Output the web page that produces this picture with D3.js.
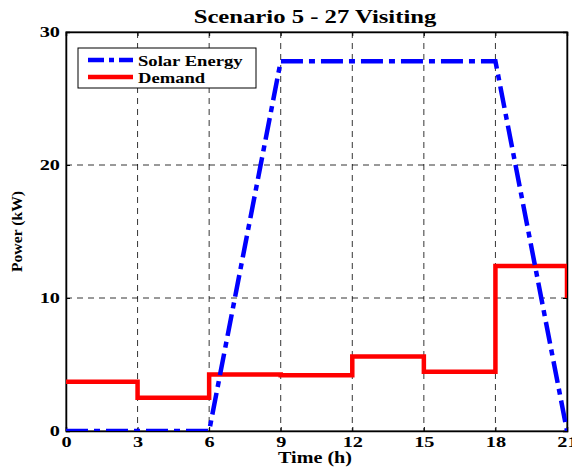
<!DOCTYPE html>
<html>
<head>
<meta charset="utf-8">
<script src="https://cdn.jsdelivr.net/npm/d3@7"></script>
<style>
  body { margin: 0; background: #fff; }
  text { font-family: "Liberation Serif", "Times New Roman", serif; font-weight: bold; }
</style>
</head>
<body>
<div id="chart"></div>
<script>
// Data
const xTicks = [0, 3, 6, 9, 12, 15, 18, 21];
const yTicks = [0, 10, 20, 30];
const solarHours = [0, 6, 9, 18, 21];
const solarPower = [0, 0, 27.8, 27.8, 0];
const demandHours = [0, 3, 6, 9, 12, 15, 18, 21];
const demandPower = [3.7, 2.5, 4.25, 4.2, 5.6, 4.45, 12.4, 10];

const width = 572, height = 468;
const margin = { top: 32, right: 5, bottom: 37, left: 66 };
const iw = width - margin.left - margin.right;
const ih = height - margin.top - margin.bottom;

// the original text is drawn wider than normal Times, so stretch it sideways
const tickStretch = 1.45;

const svg = d3.select("#chart").append("svg")
  .attr("width", width)
  .attr("height", height);

const g = svg.append("g").attr("transform", `translate(${margin.left},${margin.top})`);

const x = d3.scaleLinear().domain([0, 21]).range([0, iw]);
const y = d3.scaleLinear().domain([0, 30]).range([ih, 0]);

// clip so the lines stay inside the box
g.append("clipPath").attr("id", "clip")
  .append("rect").attr("x", -3).attr("y", -3).attr("width", iw + 3).attr("height", ih + 3);

// grid
g.selectAll(".vgrid")
  .data(xTicks.slice(1, -1))
  .enter().append("line")
  .attr("x1", d => x(d)).attr("x2", d => x(d))
  .attr("y1", 0).attr("y2", ih)
  .attr("stroke", "#000").attr("stroke-width", 0.8)
  .attr("stroke-dasharray", "6,5");

g.selectAll(".hgrid")
  .data(yTicks.slice(1, -1))
  .enter().append("line")
  .attr("x1", 0).attr("x2", iw)
  .attr("y1", d => y(d)).attr("y2", d => y(d))
  .attr("stroke", "#000").attr("stroke-width", 0.8)
  .attr("stroke-dasharray", "6,5");

// axes box
g.append("rect")
  .attr("width", iw).attr("height", ih)
  .attr("fill", "none").attr("stroke", "#000").attr("stroke-width", 1);

// bottom + left axes (ticks inside)
const xAxis = g.append("g").attr("transform", `translate(0,${ih})`)
  .call(d3.axisBottom(x).tickValues(xTicks).tickSize(-4).tickPadding(0));
const yAxis = g.append("g")
  .call(d3.axisLeft(y).tickValues(yTicks).tickSize(-4).tickPadding(0));
g.append("g").call(d3.axisTop(x).tickValues(xTicks).tickSize(-4).tickFormat(""));
g.append("g").attr("transform", `translate(${iw},0)`)
  .call(d3.axisRight(y).tickValues(yTicks).tickSize(-4).tickFormat(""));

svg.selectAll(".domain").attr("stroke", "#000").attr("stroke-width", 1.5);
svg.selectAll(".tick line").attr("stroke", "#000");

xAxis.selectAll(".tick text")
  .attr("font-size", 14).attr("fill", "#000")
  .attr("x", 0).attr("y", 16.5).attr("dy", null)
  .attr("transform", `scale(${tickStretch},1)`);

yAxis.selectAll(".tick text")
  .attr("font-size", 14).attr("fill", "#000")
  .attr("x", -6 / tickStretch).attr("y", 4.5).attr("dy", null)
  .attr("transform", `scale(${tickStretch},1)`);

// lines
const lines = g.append("g").attr("clip-path", "url(#clip)");

const demandLine = d3.line()
  .x((d, i) => x(demandHours[i]))
  .y(d => y(d))
  .curve(d3.curveStepAfter);

lines.append("path")
  .datum(demandPower)
  .attr("d", demandLine)
  .attr("fill", "none")
  .attr("stroke", "#ff0000")
  .attr("stroke-width", 4.5);

const solarLine = d3.line()
  .x((d, i) => x(solarHours[i]))
  .y(d => y(d));

lines.append("path")
  .datum(solarPower)
  .attr("d", solarLine)
  .attr("fill", "none")
  .attr("stroke", "#0000ff")
  .attr("stroke-width", 4.5)
  .attr("stroke-dasharray", "22,6,6,6");

// legend
const legend = g.append("g").attr("transform", "translate(12,16)");
legend.append("rect")
  .attr("width", 178).attr("height", 40)
  .attr("fill", "#fff").attr("stroke", "#000").attr("stroke-width", 1);
const legendItems = [
  { name: "Solar Energy", color: "#0000ff", dash: "16,5,5,5" },
  { name: "Demand", color: "#ff0000", dash: null }
];
legendItems.forEach((d, i) => {
  const yy = 12 + i * 17;
  legend.append("line")
    .attr("x1", 10).attr("x2", 55).attr("y1", yy).attr("y2", yy)
    .attr("stroke", d.color).attr("stroke-width", 4.5)
    .attr("stroke-dasharray", d.dash);
  legend.append("text")
    .attr("transform", `translate(60,${yy + 5.5}) scale(1.2,1)`)
    .attr("font-size", 15.5)
    .text(d.name);
});

// title and labels
svg.append("text")
  .attr("transform", `translate(315,22.5) scale(1.3,1)`)
  .attr("text-anchor", "middle")
  .attr("font-size", 19)
  .text("Scenario 5 - 27 Visiting");

svg.append("text")
  .attr("transform", `translate(315,463) scale(1.15,1)`)
  .attr("text-anchor", "middle")
  .attr("font-size", 17.5)
  .text("Time (h)");

svg.append("text")
  .attr("transform", `translate(21.5,${margin.top + ih / 2}) rotate(-90) scale(1.12,1)`)
  .attr("text-anchor", "middle")
  .attr("font-size", 14)
  .text("Power (kW)");
</script>
</body>
</html>
